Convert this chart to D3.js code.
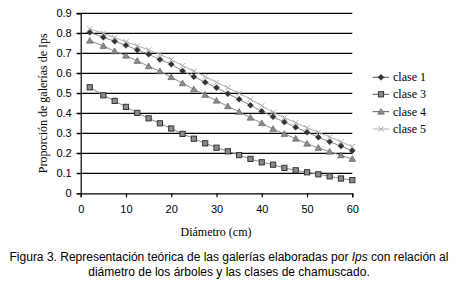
<!DOCTYPE html>
<html><head><meta charset="utf-8">
<script src="https://cdn.jsdelivr.net/npm/d3@7"></script>
<style>
html,body{margin:0;padding:0;background:#fff;}
svg{display:block;}
</style></head>
<body>
<svg id="c" width="469" height="296"></svg>
<script>
const diameters = [2, 5, 7.5, 10, 12.5, 15, 17.5, 20, 22.5, 25, 27.5, 30, 32.5, 35, 37.5, 40, 42.5, 45, 47.5, 50, 52.5, 55, 57.5, 60];
const clase1 = [0.805, 0.78, 0.76, 0.74, 0.717, 0.695, 0.669, 0.645, 0.612, 0.583, 0.555, 0.528, 0.498, 0.47, 0.44, 0.41, 0.383, 0.356, 0.33, 0.305, 0.28, 0.258, 0.236, 0.213];
const clase3 = [0.53, 0.49, 0.462, 0.432, 0.402, 0.375, 0.35, 0.324, 0.297, 0.273, 0.25, 0.228, 0.21, 0.191, 0.172, 0.155, 0.143, 0.127, 0.115, 0.105, 0.095, 0.085, 0.074, 0.066];
const clase4 = [0.763, 0.737, 0.71, 0.688, 0.662, 0.635, 0.61, 0.581, 0.55, 0.52, 0.492, 0.463, 0.435, 0.407, 0.378, 0.35, 0.322, 0.297, 0.273, 0.248, 0.227, 0.208, 0.19, 0.172];
const clase5 = [0.822, 0.80, 0.778, 0.758, 0.737, 0.717, 0.695, 0.669, 0.638, 0.61, 0.583, 0.555, 0.528, 0.50, 0.47, 0.438, 0.405, 0.378, 0.353, 0.328, 0.305, 0.282, 0.257, 0.233];
const seriesNames = ["clase 1", "clase 3", "clase 4", "clase 5"];
const xTicks = [0, 10, 20, 30, 40, 50, 60];
const yTicks = [0, 0.1, 0.2, 0.3, 0.4, 0.5, 0.6, 0.7, 0.8, 0.9];

const svg = d3.select("#c");
const x = d3.scaleLinear().domain([0, 60]).range([80.7, 352.3]);
const y = d3.scaleLinear().domain([0, 0.9]).range([193.3, 13.3]);
const sans = "'Liberation Sans', Arial, sans-serif";
const serif = "'Liberation Serif', 'Times New Roman', serif";

// gridlines
svg.append("g").selectAll("line").data(yTicks.filter(d => d > 0)).join("line")
  .attr("x1", x(0) - 4).attr("x2", x(60)).attr("y1", d => y(d)).attr("y2", d => y(d))
  .attr("stroke", "#000").attr("stroke-width", 1.2);

// y axis
const yAxis = svg.append("g").attr("transform", `translate(${x(0)},0)`)
  .call(d3.axisLeft(y).tickValues(yTicks).tickFormat(d => d === 0 ? "0" : d3.format(".1f")(d)).tickSize(4).tickPadding(5));
yAxis.select(".domain").attr("stroke", "#000").attr("stroke-width", 1.2);
yAxis.selectAll("line").attr("stroke", "#000");
yAxis.selectAll("text").attr("font-family", sans).attr("font-size", 11).attr("fill", "#000");

// x axis
const xAxis = svg.append("g").attr("transform", `translate(0,${y(0)})`)
  .call(d3.axisBottom(x).tickValues(xTicks).tickSize(4).tickPadding(8));
xAxis.select(".domain").attr("stroke", "#000").attr("stroke-width", 1.2);
xAxis.selectAll("line").attr("stroke", "#000").attr("stroke-width", 1.2);
xAxis.selectAll("text").attr("font-family", sans).attr("font-size", 11).attr("fill", "#000");

const allSeries = [clase1, clase3, clase4, clase5];
const lineCol = ["#8a8a8a", "#8a8a8a", "#8a8a8a", "#b0b0b0"];
const line = d3.line().x((d, i) => x(diameters[i])).y(d => y(d));

function marker(g, k, cx, cy) {
  if (k === 0) {
    g.append("path").attr("d", `M${cx},${cy-3} L${cx+3},${cy} L${cx},${cy+3} L${cx-3},${cy} Z`)
      .attr("fill", "#333").attr("stroke", "#333").attr("stroke-width", 0.5);
  } else if (k === 1) {
    g.append("rect").attr("x", cx - 2.6).attr("y", cy - 2.6).attr("width", 5.2).attr("height", 5.2)
      .attr("fill", "#8c8c8c").attr("stroke", "#333").attr("stroke-width", 1);
  } else if (k === 2) {
    g.append("path").attr("d", `M${cx},${cy-3.3} L${cx+3.3},${cy+2.5} L${cx-3.3},${cy+2.5} Z`)
      .attr("fill", "#8c8c8c").attr("stroke", "#555").attr("stroke-width", 0.6);
  } else {
    g.append("path").attr("d", `M${cx-2.6},${cy-2.6} L${cx+2.6},${cy+2.6} M${cx+2.6},${cy-2.6} L${cx-2.6},${cy+2.6}`)
      .attr("stroke", "#a8a8a8").attr("stroke-width", 1);
  }
}

allSeries.forEach((s, k) => {
  const g = svg.append("g");
  g.append("path").datum(s).attr("d", line).attr("fill", "none").attr("stroke", lineCol[k]).attr("stroke-width", 1);
  s.forEach((v, i) => marker(g, k, x(diameters[i]), y(v)));
});

// legend
const legY = [77.3, 94.3, 111.7, 129];
seriesNames.forEach((n, k) => {
  const g = svg.append("g");
  g.append("line").attr("x1", 372.7).attr("x2", 389).attr("y1", legY[k]).attr("y2", legY[k])
    .attr("stroke", k === 3 ? "#b0b0b0" : "#555").attr("stroke-width", 1);
  marker(g, k, 381, legY[k]);
  g.append("text").attr("x", 393).attr("y", legY[k] + 4).text(n)
    .attr("font-family", serif).attr("font-size", 12).attr("fill", "#000");
});

// axis titles
svg.append("text").attr("transform", `translate(47,${y(0.45)}) rotate(-90)`).attr("text-anchor", "middle")
  .attr("font-family", serif).attr("font-size", 12).text("Proporción de galerías de Ips");
svg.append("text").attr("x", 216).attr("y", 236).attr("text-anchor", "middle")
  .attr("font-family", serif).attr("font-size", 12).text("Diámetro (cm)");

// caption
const cap1 = svg.append("text").attr("x", 229).attr("y", 261).attr("text-anchor", "middle")
  .attr("font-family", sans).attr("font-size", 12);
cap1.append("tspan").text("Figura 3. Representación teórica de las galerías elaboradas por ");
cap1.append("tspan").attr("font-style", "italic").text("Ips");
cap1.append("tspan").text(" con relación al");
svg.append("text").attr("x", 229).attr("y", 275.5).attr("text-anchor", "middle")
  .attr("font-family", sans).attr("font-size", 12).text("diámetro de los árboles y las clases de chamuscado.");
</script>
</body></html>
